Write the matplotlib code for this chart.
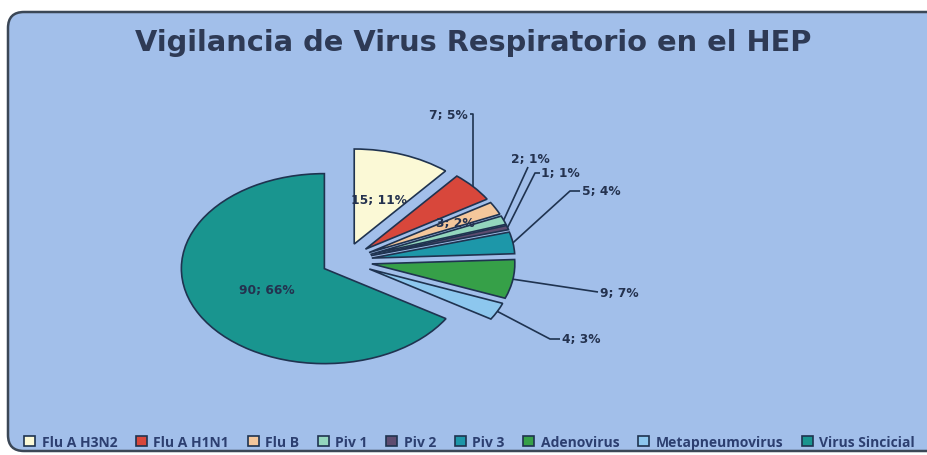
import matplotlib
matplotlib.use('Agg')
import matplotlib.pyplot as plt
from matplotlib.patches import FancyBboxPatch
import numpy as np

# ---- data ----
title = "Vigilancia de Virus Respiratorio en el HEP"
categories = ["Flu A H3N2", "Flu A H1N1", "Flu B", "Piv 1", "Piv 2", "Piv 3",
              "Adenovirus", "Metapneumovirus", "Virus Sincicial"]
values = [15, 7, 3, 2, 1, 5, 9, 4, 90]

# ---- styles ----
colors = ['#FBF9D6', '#D8473B', '#F4C79B', '#93D6BD', '#5E4C70', '#1D97A9',
          '#36A048', '#8DC7EE', '#19958F']
explode = [0.19, 0.19, 0.19, 0.19, 0.19, 0.19, 0.19, 0.19, 0.165]
BG = '#A2BFEA'
EDGE = '#1F3350'
TXT = '#24324F'

W, H = 928, 456
CX, CY = 345, 262      # pie centre (image pixels)
RX, RY = 143, 95       # ellipse radii (image pixels)


def px(x, y):
    return ((x - CX) / RX, (CY - y) / RY)


fig = plt.figure(figsize=(W / 100, H / 100), dpi=100)
fig.patch.set_facecolor('white')

frame = FancyBboxPatch((8, 4), 945, 439,
                       boxstyle='round,pad=0,rounding_size=16',
                       transform=None, fc=BG, ec='#3B4756', lw=1.8, zorder=-5)
fig.add_artist(frame)

ax = fig.add_axes([0, 0, 1, 1])
ax.set_axis_off()
wedges, _ = ax.pie(values, colors=colors, explode=explode, startangle=90,
                   counterclock=False,
                   wedgeprops=dict(edgecolor=EDGE, linewidth=1.2))
ax.set_aspect('auto')
ax.set_xlim(-CX / RX, (W - CX) / RX)
ax.set_ylim(-(H - CY) / RY, CY / RY)

total = sum(values)
labels = [f"{v}; {round(100 * v / total)}%" for v in values]

lab_font = dict(family='DejaVu Sans', weight='bold', size=8.8, color=TXT)

# inside labels: distance factor from exploded wedge centre
inside = {0: 0.5, 2: 0.68, 8: 0.46}
# outside labels: (text position px, ha, elbow points px)
outside = {
    1: ((468, 115), 'right', [('ax', 115), (470, 115)]),
    3: ((530, 160), 'center', [(528, 168)]),
    4: ((541, 174), 'left', [(535, 174), (540, 174)]),
    5: ((582, 192), 'left', [(570, 192), (580, 192)]),
    6: ((600, 293), 'left', [(598, 293)]),
    7: ((562, 340), 'left', [(550, 340), (560, 340)]),
}

for i, w in enumerate(wedges):
    mid = np.deg2rad((w.theta1 + w.theta2) / 2)
    cx, cy = w.center
    if i in inside:
        f = inside[i]
        ax.text(cx + f * np.cos(mid), cy + f * np.sin(mid), labels[i],
                ha='center', va='center', **lab_font)
    elif i in outside:
        (tx, ty), ha, pts = outside[i]
        ax_, ay_ = cx + w.r * np.cos(mid), cy + w.r * np.sin(mid)
        xs, ys = [ax_], [ay_]
        for p in pts:
            if p[0] == 'ax':
                xs.append(ax_)
                ys.append(px(0, p[1])[1])
            else:
                q = px(*p)
                xs.append(q[0])
                ys.append(q[1])
        ax.plot(xs, ys, color=EDGE, lw=1.2, solid_capstyle='butt')
        tx_, ty_ = px(tx, ty)
        ax.text(tx_, ty_, labels[i], ha=ha, va='center', **lab_font)

fig.text(473 / W, 1 - 43 / H, title, ha='center', va='center',
         family='DejaVu Sans', weight='bold', size=20.8, color='#2E3A55')

leg = fig.legend(wedges, categories, loc='center',
                 bbox_to_anchor=(0.506, 1 - 443 / H), ncol=9, frameon=False,
                 handlelength=0.8, handleheight=0.8, handletextpad=0.45,
                 columnspacing=1.35, labelcolor='#2C3F70',
                 prop=dict(family='Open Sans', weight='bold', size=10))

fig.savefig('out.png', dpi=100, facecolor='white')
